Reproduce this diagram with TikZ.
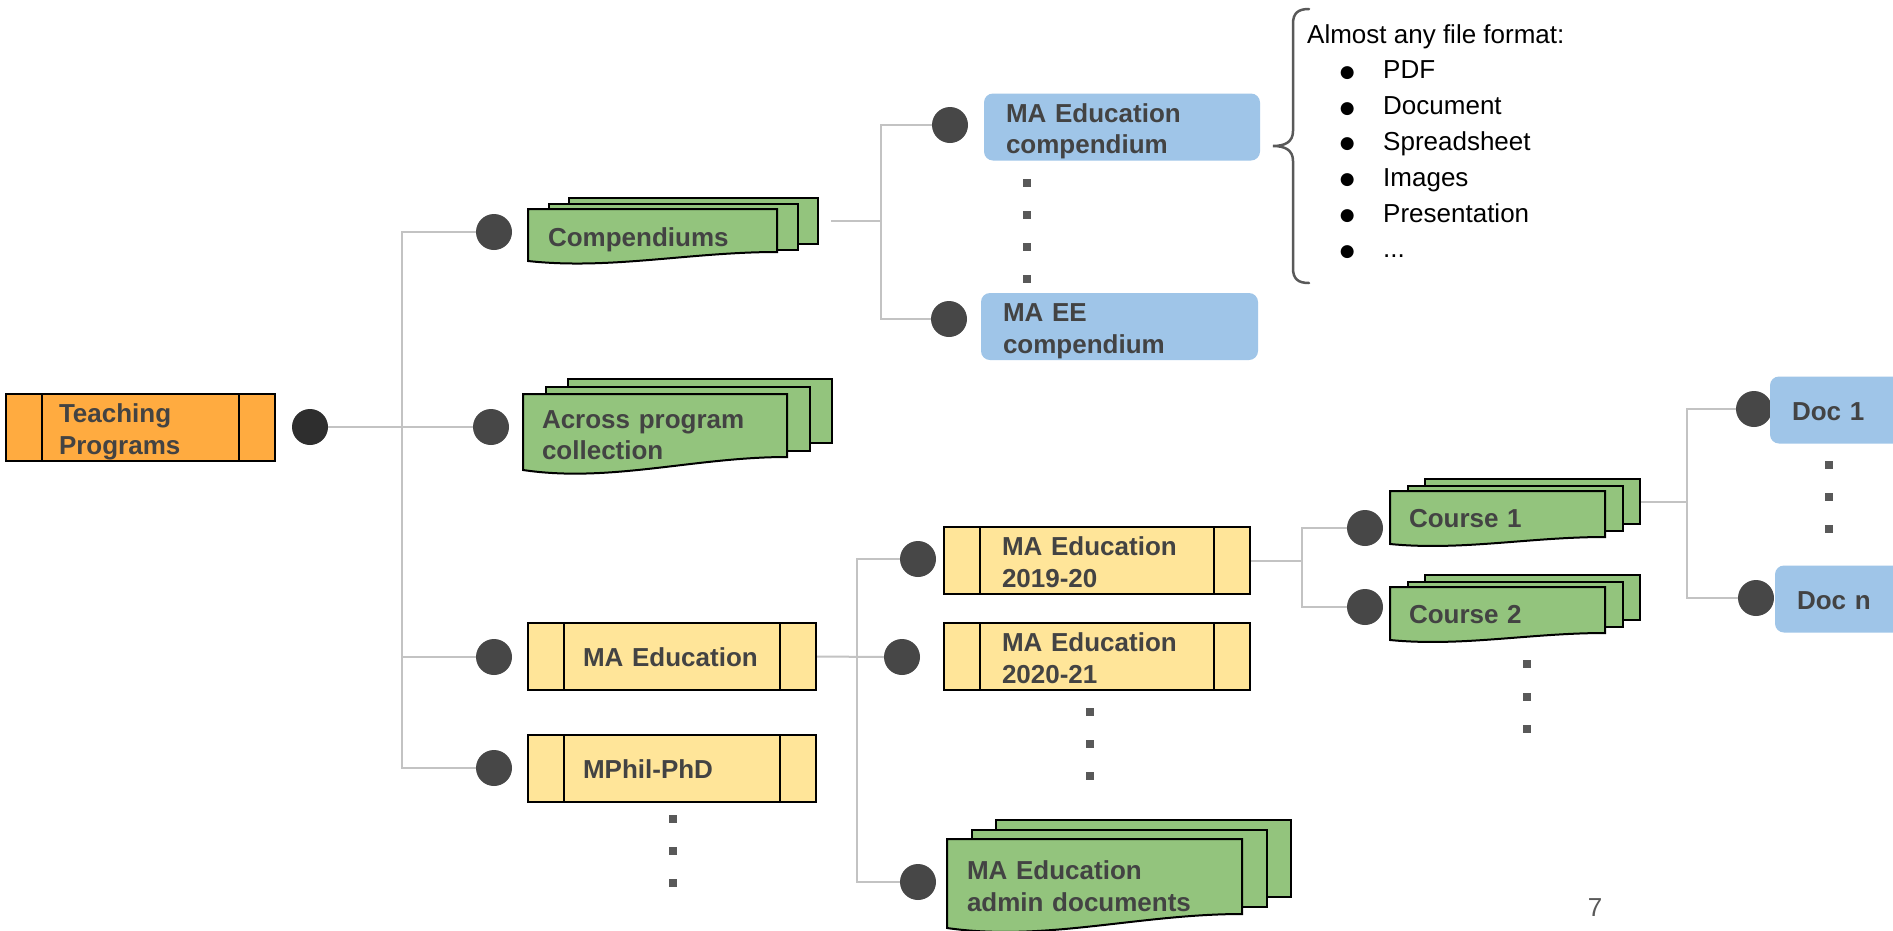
\documentclass[tikz,border=0pt]{standalone}
\usepackage{fontspec}
\setmainfont{Liberation Sans}
\newfontfamily\dejavu{DejaVu Sans}
\usetikzlibrary{calc}
\definecolor{txtgrey}{HTML}{434343}
\definecolor{orangefill}{HTML}{FFAB40}
\definecolor{yellowfill}{HTML}{FFE599}
\definecolor{greenfill}{HTML}{93C47D}
\definecolor{bluefill}{HTML}{9FC5E8}
\definecolor{dotgrey}{HTML}{474747}
\definecolor{rootgrey}{HTML}{2E2E2E}
\definecolor{linegrey}{HTML}{C3C3C3}
\definecolor{markgrey}{HTML}{595959}
\tikzset{
 lbl/.style={font=\bfseries\fontsize{26}{31.5}\selectfont, text=txtgrey, align=left, inner sep=0pt},
 oneline/.style={text height=20pt, text depth=0pt},
 twoline/.style={text height=20pt, text depth=30pt},
 procbox/.style={lbl, draw=black, line width=2pt, minimum height=67pt, path picture={
   \draw[black, line width=2pt]
     ([xshift=36pt]path picture bounding box.north west) -- ([xshift=36pt]path picture bounding box.south west)
     ([xshift=-36pt]path picture bounding box.north east) -- ([xshift=-36pt]path picture bounding box.south east);}},
 bluenode/.style={lbl, fill=bluefill, rounded corners=9pt, minimum height=67pt},
 dot/.style={circle, fill=dotgrey, minimum size=36pt, inner sep=0pt},
 conn/.style={draw=linegrey, line width=2pt},
 sheet/.style={draw=black, fill=greenfill, line width=2pt, inner sep=0pt},
 ellmark/.style={fill=markgrey},
}
% #1 name, #2 x1, #3 front top, #4 width, #5 front height (right), #6 wave, #7 dx, #8 dy, #9 back height
\newcommand\docstack[9]{%
 \node[sheet, anchor=north west, minimum width=#4pt, minimum height=#9pt] (#1-b) at ({#2+2*#7},{#3-2*#8}) {};
 \node[sheet, anchor=north west, minimum width=#4pt, minimum height=#9pt] (#1-m) at ({#2+#7},{#3-#8}) {};
 \draw[sheet] (#2,#3) -- ({#2+#4},#3) -- ({#2+#4},{#3+#5})
   .. controls ({#2+0.65*#4},{#3+#5}) and ({#2+0.33*#4},{#3+#5+2*#6}) .. (#2,{#3+#5+#6}) -- cycle;
}
\newcommand\bul{\raisebox{1.5pt}{\dejavu\fontsize{17}{17}\selectfont ●}}
\newcommand\fitem[1]{\hspace*{30pt}\makebox[20pt]{\bul}\hspace*{26pt}#1}
\begin{document}
\begin{tikzpicture}[x=1pt,y=-1pt]
\useasboundingbox (0,0) rectangle (1893,930);
\fill[white] (0,0) rectangle (1893,930);

% ---- level 0
\node[procbox, fill=orangefill, minimum width=269pt, text width=163pt, twoline] (teach) at (140.5,427.5) {Teaching\\Programs};
\node[dot, fill=rootgrey] (root) at (310,427) {};

% ---- level 1
\node[dot] (compdot) at (494,232) {};
\node[dot] (acrossdot) at (491,427) {};
\node[dot] (maeddot) at (494,657) {};
\node[dot] (mphildot) at (494,768) {};

\docstack{comp}{528}{209}{249}{43}{9}{20}{6}{46}
\node[lbl, oneline, text width=209pt] (comp) at (652.5,236) {Compendiums};
\docstack{across}{523}{394}{264}{63}{13}{22}{8}{64}
\node[lbl, twoline, text width=226pt] (across) at (655,433) {Across program\\collection};

\node[procbox, fill=yellowfill, minimum width=288pt, text width=178pt, oneline] (maed) at (672,656.5) {MA Education};
\node[procbox, fill=yellowfill, minimum width=288pt, text width=178pt, oneline] (mphil) at (672,768.5) {MPhil-PhD};

% ---- compendium branch
\node[dot] (mcdot) at (950,125) {};
\node[dot] (eedot) at (949,319) {};
\node[bluenode, minimum width=276pt, text width=232pt, twoline] (mced) at (1122,127) {MA Education\\compendium};
\node[bluenode, minimum width=277pt, text width=233pt, twoline] (ee) at (1119.5,326.5) {MA EE\\compendium};

% ---- MA Education branch
\node[dot] (d1920) at (918,559) {};
\node[dot] (d2021) at (902,657) {};
\node[dot] (dadmin) at (918,882) {};
\node[procbox, fill=yellowfill, minimum width=306pt, text width=190pt, twoline] (y1920) at (1097,560.5) {MA Education\\2019-20};
\node[procbox, fill=yellowfill, minimum width=306pt, text width=190pt, twoline] (y2021) at (1097,656.5) {MA Education\\2020-21};
\docstack{admin}{947}{839}{295}{75}{14}{24}{10}{77}
\node[lbl, twoline, text width=255pt] (admin) at (1094.5,884.5) {MA Education\\admin documents};

% ---- courses
\node[dot] (c1dot) at (1365,528) {};
\node[dot] (c2dot) at (1365,607) {};
\docstack{c1}{1390}{491}{215}{46}{7}{17}{6.5}{45}
\node[lbl, oneline, text width=177pt] (c1) at (1497.5,517) {Course 1};
\docstack{c2}{1390}{587}{215}{46}{7}{17}{6.5}{45}
\node[lbl, oneline, text width=177pt] (c2) at (1497.5,613) {Course 2};

% ---- docs
\node[dot] (doc1dot) at (1754,409) {};
\node[dot] (docndot) at (1756,598) {};
\node[bluenode, minimum width=140pt, text width=96pt, oneline] (doc1) at (1840,410) {Doc 1};
\node[bluenode, minimum width=140pt, text width=96pt, oneline] (docn) at (1845,599) {Doc n};

% ---- connectors
\coordinate (t1) at (402,0);
\draw[conn] (root.east) -- (acrossdot.west);
\draw[conn] (compdot.west) -| (t1 |- mphildot.west) -- (mphildot.west);
\draw[conn] (maeddot.west) -- (t1 |- maeddot.west);

\coordinate (jc) at (881,0);
\draw[conn] ([xshift=12pt]comp-b.east) -- (comp-b.east -| jc);
\draw[conn] (mcdot.west) -| (jc |- eedot.west) -- (eedot.west);

\coordinate (j2) at (857,0);
\draw[conn] (maed.east) -- (d2021.west);
\draw[conn] (d1920.west) -| (j2 |- dadmin.west) -- (dadmin.west);

\coordinate (j3) at (1302,0);
\draw[conn] (y1920.east) -- (y1920.east -| j3);
\draw[conn] (c1dot.west) -| (j3 |- c2dot.west) -- (c2dot.west);

\coordinate (j4) at (1687,0);
\draw[conn] (c1-b.east) -- (c1-b.east -| j4);
\draw[conn] (doc1dot.west) -| (j4 |- docndot.west) -- (docndot.west);

% ---- vertical ellipsis marks
\foreach \y in {183,215,247,279} \fill[ellmark] (1023,\y-4) rectangle ++(8,8);
\foreach \y in {712,744,776} \fill[ellmark] (1086,\y-4) rectangle ++(8,8);
\foreach \y in {819,851,883} \fill[ellmark] (669,\y-4) rectangle ++(8,8);
\foreach \y in {664,697,729} \fill[ellmark] (1523,\y-4) rectangle ++(8,8);
\foreach \y in {465,497,529} \fill[ellmark] (1825,\y-4) rectangle ++(8,8);

% ---- brace and formats
\draw[draw=markgrey, line width=2.5pt, line cap=round]
  (1309,9) .. controls (1298,9) and (1293,13) .. (1293,24) -- (1293,131)
  .. controls (1293,142) and (1285,146) .. (1273,146)
  .. controls (1285,146) and (1293,150) .. (1293,161) -- (1293,268)
  .. controls (1293,279) and (1298,283) .. (1309,283);
\node[anchor=north west, align=left, inner sep=0pt, font=\fontsize{26}{35.8}\selectfont, text=black] (formats) at (1307,24)
  {Almost any file format:\\\fitem{PDF}\\\fitem{Document}\\\fitem{Spreadsheet}\\\fitem{Images}\\\fitem{Presentation}\\\fitem{...}};

% ---- page number
\node[font=\fontsize{26}{30}\selectfont, text=markgrey, inner sep=0pt] (pagenum) at (1595,908) {7};
\end{tikzpicture}
\end{document}
